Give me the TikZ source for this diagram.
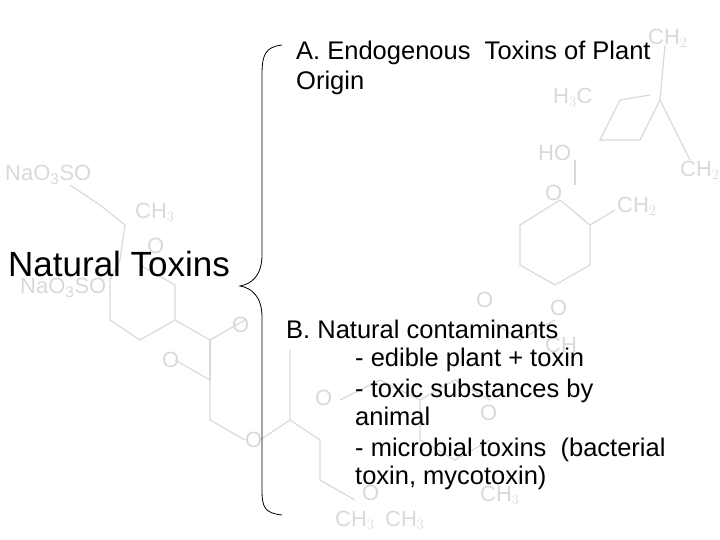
\documentclass[tikz,border=0pt]{standalone}
\usepackage{fontspec}
\setmainfont{Liberation Sans}
\begin{document}
\begin{tikzpicture}[x=1pt,y=-1pt,
  bg/.style={text=black!15,font=\fontsize{22}{22}\selectfont,inner sep=0pt,anchor=west},
  bgl/.style={draw=black!15,line width=1.2pt},
  txt/.style={inner sep=0pt,anchor=base west,font=\fontsize{25.5}{26}\selectfont}]
\useasboundingbox (0,0) rectangle (720,540);
% faint background structure
\node[bg] (c1) at (648,38) {CH$_2$};
\node[bg] (c2) at (553,97) {H$_3$C};
\node[bg] (c3) at (538,153) {HO};
\node[bg] (c4) at (680,170) {CH$_2$};
\node[bg] (c5) at (5,175) {Na$\mathrm{O_3}$SO};
\node[bg] (c6) at (135,212) {CH$_3$};
\node[bg] (c7) at (617,206) {CH$_2$};
\node[bg] (c8) at (545,193) {O};
\node[bg] (c9) at (147,246) {O};
\node[bg] (c10) at (20,288) {Na$\mathrm{O_3}$SO};
\node[bg] (c11) at (476,300) {O};
\node[bg] (c12) at (550,308) {O};
\node[bg] (c13) at (232,325) {O};
\node[bg] (c14) at (162,360) {O};
\node[bg] (c15) at (545,345) {CH};
\node[bg] (c16) at (315,398) {O};
\node[bg] (c17) at (480,413) {O};
\node[bg] (c18) at (245,440) {O};
\node[bg] (c19) at (362,493) {O};
\node[bg] (c20) at (480,495) {CH$_3$};
\node[bg] (c21) at (335,520) {CH$_3$};
\node[bg] (c22) at (385,520) {CH$_3$};
\draw[bgl] (665,45)--(660,100)--(640,140)--(600,140)--(620,100)--(650,95);
\draw[bgl] (660,100)--(690,160);
\draw[bgl] (575,160)--(575,185);
\draw[bgl] (560,200)--(520,225)--(520,265)--(555,285)--(590,265)--(590,225)--(560,200);
\draw[bgl] (590,225)--(615,210);
\draw[bgl] (70,185)--(100,205)--(125,225)--(120,260)--(110,280);
\draw[bgl] (110,280)--(110,320)--(140,340)--(175,320)--(175,285)--(140,265);
\draw[bgl] (175,320)--(210,340)--(245,320);
\draw[bgl] (175,360)--(210,380)--(210,420)--(245,440);
\draw[bgl] (210,340)--(210,380);
\draw[bgl] (290,350)--(290,420)--(320,440)--(320,480)--(355,500);
\draw[bgl] (260,440)--(290,420);
\draw[bgl] (340,400)--(380,380)--(420,400)--(455,380)--(490,400);
\draw[bgl] (490,320)--(520,340)--(555,320);
\draw[bgl] (420,400)--(420,440)--(455,460)--(490,440);
% main text
\node[txt] (ta) at (296,60) {A. Endogenous\ \ Toxins of Plant};
\node[txt] (ta2) at (296,90) {Origin};
\node[inner sep=0pt,anchor=base west] (nt) at (8,276) {\fontsize{35}{36}\selectfont Natural Toxins};
\node[txt] (b0) at (286,338) {B. Natural contaminants};
\node[txt] (b1) at (355,366) {- edible plant + toxin};
\node[txt] (b2) at (355,397) {- toxic substances by};
\node[txt] (b3) at (355,425) {animal};
\node[txt] (b4) at (355,456) {- microbial toxins\ \ (bacterial};
\node[txt] (b5) at (355,484) {toxin, mycotoxin)};
% brace
\draw[line width=0.8pt] (282,45) .. controls (265,47) and (262,55) .. (262,75)
  -- (262,255) .. controls (262,275) and (252,284) .. (240,286)
  .. controls (252,288) and (262,297) .. (262,317)
  -- (262,490) .. controls (262,508) and (265,513) .. (282,515);
\end{tikzpicture}
\end{document}
